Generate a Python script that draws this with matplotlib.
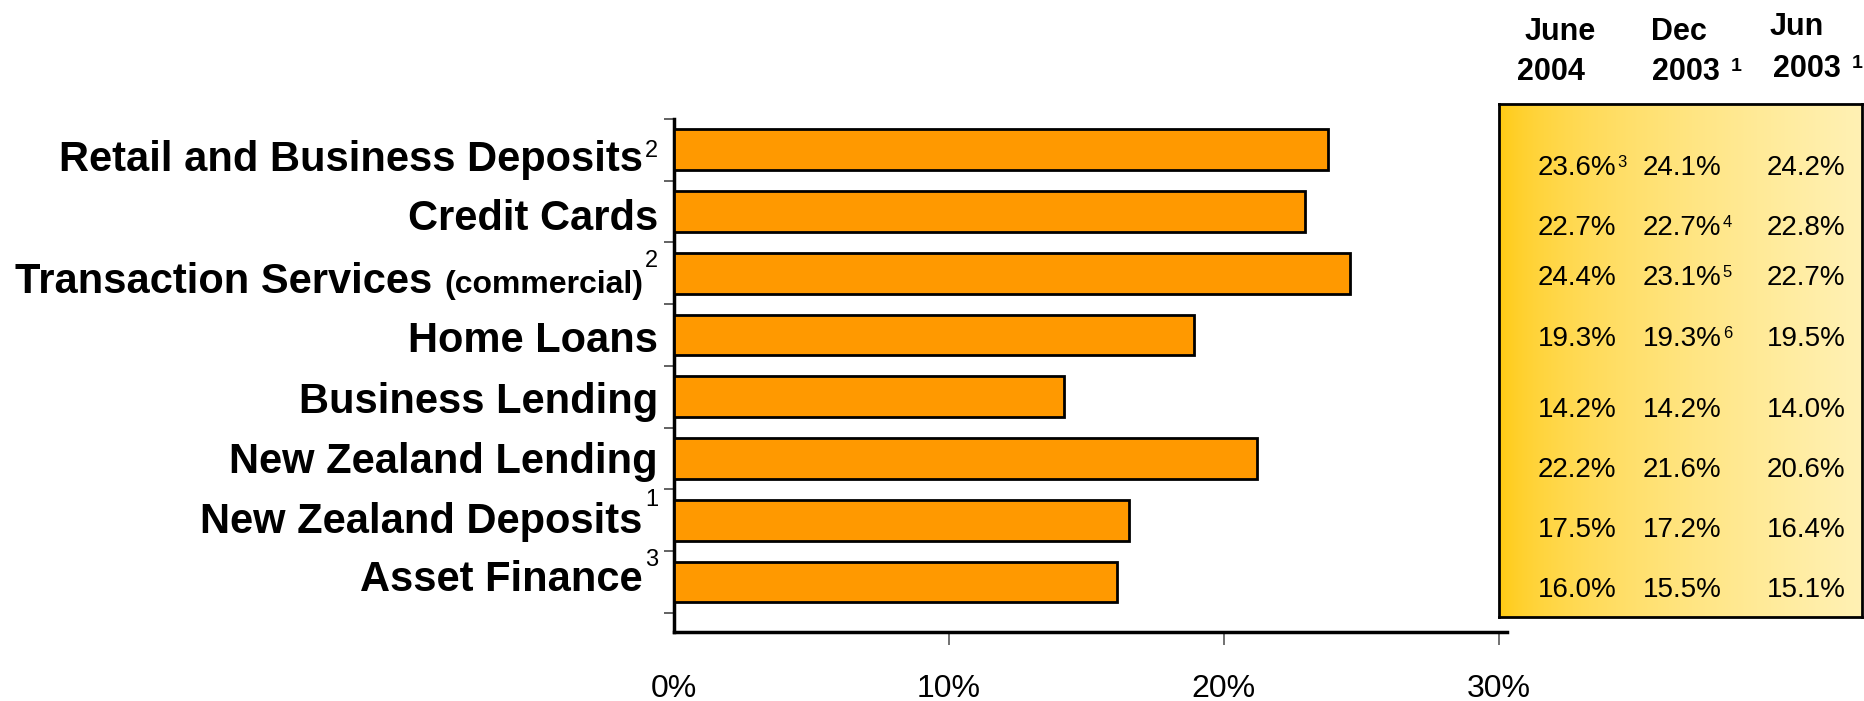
import numpy as np
import matplotlib
matplotlib.use("Agg")
import matplotlib.pyplot as plt
from matplotlib.transforms import ScaledTranslation

plt.rcParams['font.family'] = ['Liberation Sans', 'DejaVu Sans']

# ---------------- data ----------------
categories = ["Retail and Business Deposits", "Credit Cards", "Transaction Services",
              "Home Loans", "Business Lending", "New Zealand Lending",
              "New Zealand Deposits", "Asset Finance"]
label_small = ["", "", "(commercial)", "", "", "", "", ""]
label_sup = ["2", "", "2", "", "", "", "1", "3"]
bar_values = [23.8, 22.95, 24.6, 18.9, 14.2, 21.2, 16.55, 16.1]
xticks = [0, 10, 20, 30]
xtick_labels = ["0%", "10%", "20%", "30%"]

header_top = ["June", "Dec", "Jun"]
header_bottom = ["2004", "2003", "2003"]
header_notes = ["", "1", "1"]
june_2004 = ["23.6%", "22.7%", "24.4%", "19.3%", "14.2%", "22.2%", "17.5%", "16.0%"]
dec_2003 = ["24.1%", "22.7%", "23.1%", "19.3%", "14.2%", "21.6%", "17.2%", "15.5%"]
jun_2003 = ["24.2%", "22.8%", "22.7%", "19.5%", "14.0%", "20.6%", "16.4%", "15.1%"]
june_2004_notes = ["3", "", "", "", "", "", "", ""]
dec_2003_notes = ["", "4", "5", "6", "", "", "", ""]
jun_2003_notes = ["", "", "", "", "", "", "", ""]

# ---------------- layout ----------------
W, H, DPI = 1864, 701, 100
fig = plt.figure(figsize=(W / DPI, H / DPI), dpi=DPI)
renderer = fig.canvas.get_renderer()


def fx(x):
    return x / W


def fy(y):
    return 1 - y / H


ax = fig.add_axes([fx(674), fy(632), 833 / W, 513 / H])
ypos = np.arange(len(categories))
ax.barh(ypos, bar_values, height=0.66, color='#FF9900', edgecolor='black',
        linewidth=2, zorder=3)
ax.set_xlim(0, 30.3)
ax.set_ylim(7.81, -0.5)
for s in ['top', 'right']:
    ax.spines[s].set_visible(False)
for s in ['left', 'bottom']:
    ax.spines[s].set_linewidth(2.5)
    ax.spines[s].set_color('black')

ax.set_yticks(np.arange(-0.5, len(categories), 1.0))
ax.set_yticklabels([])
ax.tick_params(axis='y', length=7.2, width=1.3, color='#555555', direction='out')
ax.set_xticks(xticks, xtick_labels)
ax.tick_params(axis='x', length=9.5, width=1.3, color='#666666', direction='out',
               pad=21, labelsize=23)
ax.xaxis.get_major_ticks()[0].tick1line.set_visible(False)

base = ax.get_yaxis_transform()


def tr(dx_px, dy_px):
    return base + ScaledTranslation(dx_px / DPI, dy_px / DPI, fig.dpi_scale_trans)


sup_raise = [14, 0, 26, 0, 0, 0, 27, 25]
sup_size = [17, 0, 17, 0, 0, 0, 17, 17]
label_drop = [21, 18, 20, 17, 16, 14, 13, 9]
for i, cat in enumerate(categories):
    right = -16
    if label_sup[i]:
        t = ax.text(0, i, label_sup[i], transform=tr(right, -label_drop[i] + sup_raise[i]),
                    ha='right', va='baseline', fontsize=sup_size[i])
        right -= t.get_window_extent(renderer).width + 2
    if label_small[i]:
        t = ax.text(0, i, label_small[i], transform=tr(right, -label_drop[i]),
                    ha='right', va='baseline', fontsize=23, fontweight='bold')
        right -= t.get_window_extent(renderer).width + 12
    ax.text(0, i, cat, transform=tr(right, -label_drop[i]), ha='right', va='baseline',
            fontsize=30, fontweight='bold')

# ---------------- table ----------------
tab = fig.add_axes([fx(1499), fy(617), 363 / W, 513 / H])
t = np.linspace(0, 1, 400) ** 0.55
left_c = np.array([255, 200, 10]) / 255
right_c = np.array([255, 241, 180]) / 255
grad = left_c[None, :] + (right_c - left_c)[None, :] * t[:, None]
tab.imshow(grad[None, :, :], aspect='auto', extent=[0, 1, 0, 1])
tab.set_xticks([])
tab.set_yticks([])
for s in tab.spines.values():
    s.set_linewidth(2)
    s.set_color('black')

row_base = [175, 235, 285, 346, 417, 477, 537, 597]
col_x = [1538, 1643, 1767]
columns = [june_2004, dec_2003, jun_2003]
notes = [june_2004_notes, dec_2003_notes, jun_2003_notes]
for c, (vals, nts) in enumerate(zip(columns, notes)):
    for r, (v, n) in enumerate(zip(vals, nts)):
        tt = fig.text(fx(col_x[c]), fy(row_base[r]), v, ha='left', va='baseline',
                      fontsize=20)
        if n:
            ext = tt.get_window_extent(renderer)
            fig.text(fx(ext.x1 + 1), fy(row_base[r] - 8), n, ha='left',
                     va='baseline', fontsize=12)

head_top_pos = [(1560, 40), (1679, 40), (1797, 35)]
head_bot_pos = [(1551, 80), (1686, 80), (1807, 77)]
for c in range(3):
    fig.text(fx(head_top_pos[c][0]), fy(head_top_pos[c][1]), header_top[c],
             ha='center', va='baseline', fontsize=22, fontweight='bold')
    tt = fig.text(fx(head_bot_pos[c][0]), fy(head_bot_pos[c][1]), header_bottom[c],
                  ha='center', va='baseline', fontsize=22, fontweight='bold')
    if header_notes[c]:
        ext = tt.get_window_extent(renderer)
        fig.text(fx(ext.x1 + 11), fy(head_bot_pos[c][1] - 9), header_notes[c],
                 ha='left', va='baseline', fontsize=14, fontweight='bold')

fig.savefig('out.png', dpi=DPI)
